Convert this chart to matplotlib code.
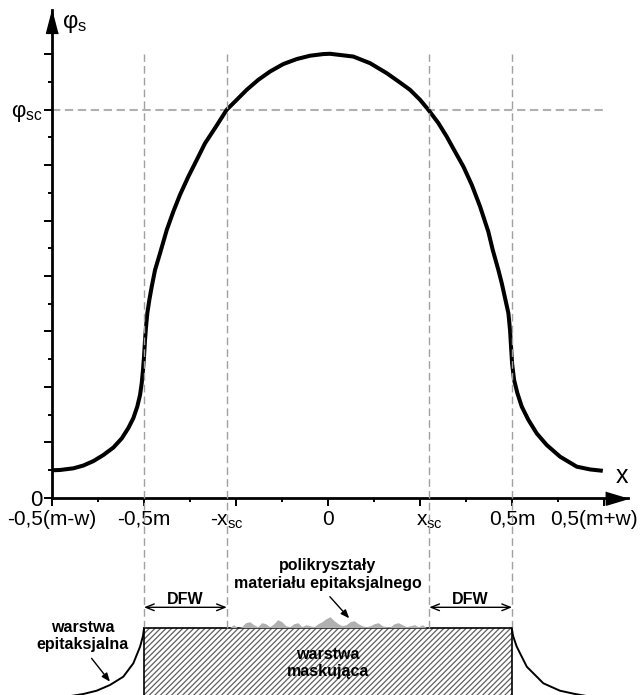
import matplotlib.pyplot as plt
import numpy as np
from matplotlib.patches import Rectangle
from matplotlib.transforms import ScaledTranslation

plt.rcParams['font.family'] = ['Liberation Sans', 'DejaVu Sans']
plt.rcParams['mathtext.default'] = 'regular'
plt.rcParams['hatch.linewidth'] = 0.9

# krzywa phi_s(x) (x w jednostkach osi, phi w działkach osi y)
x_curve = [-2.997, -2.913, -2.768, -2.660, -2.551, -2.442, -2.333, -2.242, -2.171, -2.116,
           -2.073, -2.043, -2.025, -2.011, -2.000, -1.989, -1.978, -1.964, -1.942, -1.916,
           -1.880, -1.826, -1.753, -1.682, -1.609, -1.518, -1.427, -1.337, -1.228, -1.101,
           -0.992, -0.884, -0.758, -0.630, -0.486, -0.340, -0.196, -0.051, 0.022, 0.275,
           0.457, 0.638, 0.783, 0.891, 1.000, 1.090, 1.199, 1.290, 1.380, 1.471,
           1.562, 1.652, 1.742, 1.790, 1.851, 1.888, 1.924, 1.960, 1.978, 1.989,
           2.000, 2.022, 2.058, 2.105, 2.177, 2.268, 2.377, 2.522, 2.703, 2.848,
           2.986]
phi_curve = [0.99, 1.00, 1.06, 1.16, 1.32, 1.54, 1.81, 2.14, 2.51, 2.87,
             3.29, 3.71, 4.13, 4.61, 5.09, 5.69, 6.17, 6.66, 7.14, 7.62,
             8.22, 8.82, 9.66, 10.32, 10.93, 11.59, 12.19, 12.79, 13.34, 14.00,
             14.36, 14.72, 15.08, 15.38, 15.65, 15.83, 15.95, 16.01, 16.02, 15.92,
             15.68, 15.32, 14.98, 14.72, 14.36, 14.00, 13.52, 13.03, 12.49, 11.95,
             11.29, 10.51, 9.60, 8.94, 8.22, 7.74, 7.20, 6.66, 6.05, 5.45,
             4.85, 4.25, 3.77, 3.29, 2.81, 2.32, 1.90, 1.48, 1.12, 1.02,
             0.97]

x_sc = 1.1
phi_sc = 14
half_m = 2

x_major = [-3, -2, -1, 0, 1, 2, 3]
x_labels = ['-0,5(m-w)', '-0,5m', '', '0', '', '0,5m', '0,5(m+w)']
x_minor = [-2.5, -1.5, -0.5, 0.5, 1.5, 2.5]
y_major = [0, 2, 4, 6, 8, 10, 12, 14, 16]
y_labels = ['0', '', '', '', '', '', '', 'φ$_{sc}$', '']
y_minor = [1, 3, 5, 7, 9, 11, 13, 15]

# dolny schemat (y w pikselach od dołu rysunku)
mask_top = 67.3
dfw_y = 87.7
epi_left_x = [-2.0, -2.011, -2.043, -2.116, -2.225, -2.370, -2.514, -2.660, -2.859]
epi_left_y = [66.7, 59, 48.3, 31.7, 18.3, 10, 4.3, 1, -2]
epi_right_x = [1.997, 2.011, 2.051, 2.16, 2.34, 2.52, 2.685, 2.87]
epi_right_y = [66.7, 59, 48.3, 28.3, 11.7, 4.3, 1, -2]
bump_h = [0, 3, 0, 1, 5, 6, 3, 1, 5, 4, 1, 4, 8, 6, 2, 1, 4, 5, 1, 3,
          2, 1, 4, 6, 9, 11, 7, 4, 2, 3, 6, 7, 4, 2, 1, 2, 4, 5, 2, 1,
          1, 4, 5, 3, 1, 2, 3, 1, 3, 0]
bump_x = np.linspace(-1.07, 1.07, len(bump_h))

fig = plt.figure(figsize=(6.41, 6.95), dpi=100)
ax = fig.add_axes([52 / 641, 197.3 / 695, 576 / 641, 487.7 / 695])
ax.set_xlim(-3, 3.26)
ax.set_ylim(0, 17.6)
ax.patch.set_alpha(0)

for s in ['top', 'right']:
    ax.spines[s].set_visible(False)
for s in ['left', 'bottom']:
    ax.spines[s].set_linewidth(2)

ax.set_xticks(x_major)
ax.set_xticklabels(x_labels)
ax.set_xticks(x_minor, minor=True)
ax.set_yticks(y_major)
ax.set_yticklabels(y_labels)
ax.set_yticks(y_minor, minor=True)
ax.tick_params(which='major', length=5.8, width=1.4, labelsize=15, pad=3)
ax.tick_params(which='minor', length=2.6, width=1.4)
ax.tick_params(axis='y', pad=1, labelsize=16)

# ostatnia etykieta lekko w lewo, żeby się zmieściła
last = ax.get_xticklabels()[-1]
last.set_transform(last.get_transform() + ScaledTranslation(-0.10, 0, fig.dpi_scale_trans))

# strzałki osi
ax.plot(1, 0, marker=[(0, 0), (-1, -0.3), (-1, 0.3)], ms=32, color='k',
        transform=ax.transAxes, clip_on=False)
ax.plot(0, 1, marker=[(0, 0), (-0.26, -1), (0.26, -1)], ms=33, color='k',
        transform=ax.transAxes, clip_on=False)
ax.text(3.26, 0.53, 'x', fontsize=18, ha='right', va='baseline')
ax.text(-2.89, 16.96, 'φ$_{s}$', fontsize=17, ha='left', va='baseline', clip_on=False)

for xv, lab in [(-x_sc, '-x$_{sc}$'), (x_sc, 'x$_{sc}$')]:
    ax.annotate(lab, xy=(xv, 0), xycoords=('data', 'axes fraction'),
                xytext=(0, -20.5), textcoords='offset points',
                ha='center', va='baseline', fontsize=15)

ax.plot([-3, 3], [phi_sc, phi_sc], color='#b0b0b0', lw=1.5, dashes=(4, 2.2))
ax.plot(x_curve, phi_curve, color='k', lw=2.9, solid_capstyle='butt',
        solid_joinstyle='round')

# dolna część
ax2 = fig.add_axes([52 / 641, 0, 576 / 641, 197.3 / 695])
ax2.set_xlim(-3, 3.26)
ax2.set_ylim(0, 197.3)
ax2.axis('off')
ax2.patch.set_alpha(0)

fig.canvas.draw()
top_disp = ax.transData.transform((0, 16.0))
top_y2 = ax2.transData.inverted().transform(top_disp)[1]
for xv in [-half_m, -x_sc, x_sc, half_m]:
    ax2.plot([xv, xv], [mask_top, top_y2], color='#a0a0a0', lw=1.0,
             dashes=(5.5, 3), clip_on=False)

ax2.add_patch(Rectangle((-half_m, -5), 2 * half_m, mask_top + 5, hatch='//////',
                        facecolor='white', edgecolor='#606060', lw=0))
ax2.add_patch(Rectangle((-half_m, -5), 2 * half_m, mask_top + 5, fill=False,
                        edgecolor='k', lw=1.2))
ax2.fill_between(bump_x, mask_top, mask_top + np.array(bump_h), color='#b0b0b0', lw=0)
ax2.plot(epi_left_x, epi_left_y, color='k', lw=1.4, clip_on=False)
ax2.plot(epi_right_x, epi_right_y, color='k', lw=1.4, clip_on=False)

arr = dict(arrowstyle='<->,head_length=0.5,head_width=0.2', lw=1, color='k',
           shrinkA=0, shrinkB=0, mutation_scale=12)
ax2.annotate('', xy=(-x_sc, dfw_y), xytext=(-half_m, dfw_y), arrowprops=arr)
ax2.annotate('', xy=(half_m, dfw_y), xytext=(x_sc, dfw_y), arrowprops=arr)
ax2.text(-(half_m + x_sc) / 2, 95, 'DFW', fontsize=11.5, fontweight='bold', ha='center', va='center')
ax2.text((half_m + x_sc) / 2, 95, 'DFW', fontsize=11.5, fontweight='bold', ha='center', va='center')

ax2.text(0, 120.3, 'polikryształy\nmateriału epitaksjalnego', fontsize=11.5, fontweight='bold',
         ha='center', va='center', linespacing=1.25)
ax2.text(0, 32, 'warstwa\nmaskująca', fontsize=11.5, fontweight='bold',
         ha='center', va='center', linespacing=1.2)
ax2.text(-2.67, 59, 'warstwa\nepitaksjalna', fontsize=11.5, fontweight='bold',
         ha='center', va='center', linespacing=1.2)

sm = dict(arrowstyle='-|>,head_length=0.5,head_width=0.2', lw=1, color='k',
          shrinkA=0, shrinkB=0, mutation_scale=10)
ax2.annotate('', xy=(0.23, 76.7), xytext=(0.02, 98.3), arrowprops=sm)
ax2.annotate('', xy=(-2.37, 13.3), xytext=(-2.57, 36.7), arrowprops=sm)

fig.savefig('out.png', dpi=100)
